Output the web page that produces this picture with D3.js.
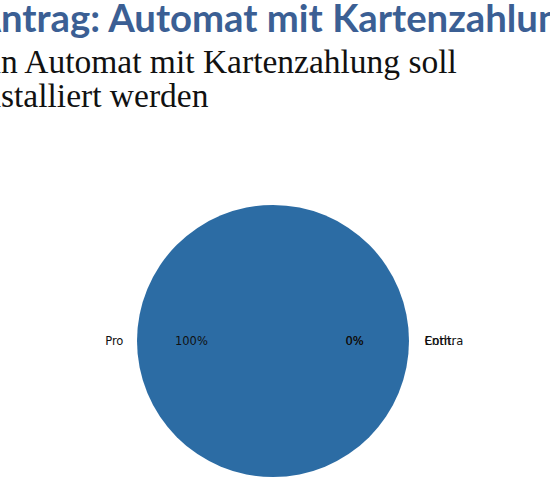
<!DOCTYPE html>
<html>
  <head>
    <meta charset="utf-8">
    <title>Antrag: Automat mit Kartenzahlung</title>
    <script src="https://cdn.jsdelivr.net/npm/d3@7/dist/d3.min.js"></script>
    <style>
      body { margin: 0; background: #fff; }
    </style>
  </head>
  <body>
    <svg width="550" height="498"></svg>
    <script>
      // Daten
      const titleText = 'Antrag: Automat mit Kartenzahlung';
      const textLines = ['Ein Automat mit Kartenzahlung soll', 'installiert werden'];
      const labels = ['Pro', 'Contra', 'Enth.'];
      const votes = [100, 0, 0];

      const svg = d3.select('svg');
      const width = +svg.attr('width');
      const height = +svg.attr('height');

      svg.append('rect').attr('width', width).attr('height', height).attr('fill', '#fff');

      // Titel (links abgeschnitten wie auf der Folie)
      const title = svg.append('text')
        .attr('y', 32)
        .style('font-family', 'Lato, sans-serif')
        .style('font-weight', 'bold')
        .style('font-size', '38.3px')
        .attr('fill', '#3b5f94')
        .text(titleText);
      title.attr('x', 1 - title.node().getSubStringLength(0, 1));

      // Text darunter
      textLines.forEach((t, i) => {
        const line = svg.append('text')
          .attr('y', 73 + i * 34)
          .style('font-family', '"Liberation Serif", serif')
          .style('font-size', '33.5px')
          .attr('fill', '#111')
          .text(t);
        line.attr('x', 1 - line.node().getSubStringLength(0, 2));
      });

      // Kuchendiagramm
      const cx = 273, cy = 341, r = 136;
      const pieG = svg.append('g').attr('transform', `translate(${cx},${cy})`);

      const data = labels.map((l, i) => ({label: l, value: votes[i]}));
      const total = d3.sum(votes);

      // wie matplotlib: Start bei 3 Uhr, gegen den Uhrzeigersinn
      const pie = d3.pie()
        .value(d => d.value)
        .sort(null)
        .startAngle(Math.PI / 2)
        .endAngle(Math.PI / 2 - 2 * Math.PI);
      const arcs = pie(data);

      const arc = d3.arc().innerRadius(0).outerRadius(r);
      pieG.selectAll('path')
        .data(arcs)
        .enter().append('path')
        .attr('d', arc)
        .attr('fill', '#2c6ca4');

      const mid = d => (d.startAngle + d.endAngle) / 2;
      const labelX = (d, k) => k * r * Math.sin(mid(d));
      const labelY = (d, k) => -k * r * Math.cos(mid(d));

      // Beschriftung außen
      pieG.selectAll('text.label')
        .data(arcs)
        .enter().append('text')
        .attr('class', 'label')
        .attr('x', d => labelX(d, 1.1) + (labelX(d, 1.1) > 0 ? 2 : 0))
        .attr('y', d => labelY(d, 1.1))
        .attr('text-anchor', d => labelX(d, 1.1) > 0 ? 'start' : 'end')
        .attr('dominant-baseline', 'central')
        .style('font-family', '"DejaVu Sans", sans-serif')
        .style('font-size', '11.5px')
        .attr('fill', '#111')
        .text(d => d.data.label);

      // Prozent innen
      pieG.selectAll('text.pct')
        .data(arcs)
        .enter().append('text')
        .attr('class', 'pct')
        .attr('x', d => labelX(d, 0.6))
        .attr('y', d => labelY(d, 0.6))
        .attr('text-anchor', 'middle')
        .attr('dominant-baseline', 'central')
        .style('font-family', '"DejaVu Sans", sans-serif')
        .style('font-size', '11.5px')
        .attr('fill', '#111')
        .text(d => Math.round(d.data.value / total * 100) + '%');
    </script>
  </body>
</html>
